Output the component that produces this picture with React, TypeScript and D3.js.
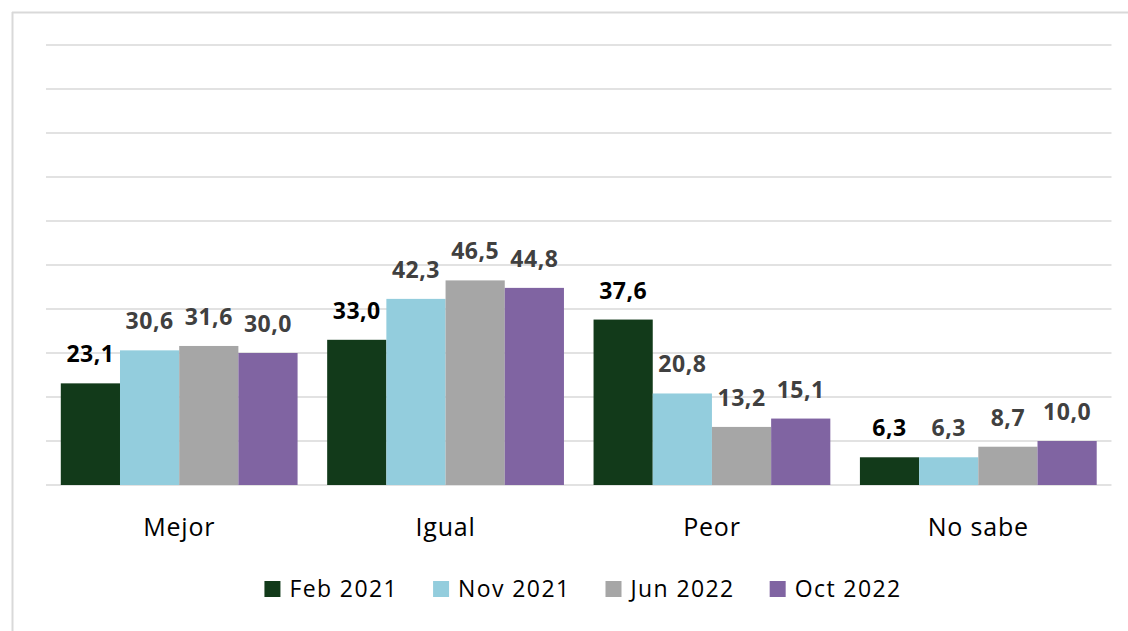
import React, { useEffect, useRef } from "react";
import * as d3 from "d3";

const categories = ["Mejor", "Igual", "Peor", "No sabe"];
const seriesNames = ["Feb 2021", "Nov 2021", "Jun 2022", "Oct 2022"];
const feb2021 = [23.1, 33.0, 37.6, 6.3];
const nov2021 = [30.6, 42.3, 20.8, 6.3];
const jun2022 = [31.6, 46.5, 13.2, 8.7];
const oct2022 = [30.0, 44.8, 15.1, 10.0];
const seriesValues = [feb2021, nov2021, jun2022, oct2022];
const colors = ["#123a1a", "#93cddd", "#a6a6a6", "#8064a2"];
const labelColors = ["#000000", "#404040", "#404040", "#404040"];
const yTicks = [0, 10, 20, 30, 40, 50, 60, 70, 80, 90, 100];

const W = 1128;
const H = 631;
const FONT = "'Open Sans', 'Liberation Sans', sans-serif";

export default function App() {
  const ref = useRef<SVGSVGElement>(null);

  useEffect(() => {
    const svg = d3.select(ref.current);
    svg.selectAll("*").remove();

    // outer border (left and top visible)
    svg.append("line").attr("x1", 12.5).attr("x2", 12.5).attr("y1", 12).attr("y2", H)
      .attr("stroke", "#d9d9d9").attr("stroke-width", 2);
    svg.append("line").attr("x1", 12).attr("x2", W).attr("y1", 12.5).attr("y2", 12.5)
      .attr("stroke", "#d9d9d9").attr("stroke-width", 2);

    const left = 46, right = 1111.5, top = 45, bottom = 485;
    const x0 = d3.scaleBand().domain(categories).range([left, right]).paddingInner(0).paddingOuter(0);
    const bw = x0.bandwidth() / 4.5;
    const x1 = d3.scaleBand().domain(seriesNames).range([bw * 0.25, bw * 4.25]).padding(0);
    const y = d3.scaleLinear().domain([0, 100]).range([bottom, top]);

    svg.append("g").selectAll("line").data(yTicks).join("line")
      .attr("x1", left).attr("x2", right)
      .attr("y1", (d) => y(d)).attr("y2", (d) => y(d))
      .attr("stroke", "#d9d9d9").attr("stroke-width", 1.5);

    seriesNames.forEach((s, si) => {
      const g = svg.append("g");
      const vals = seriesValues[si];
      g.selectAll("rect").data(vals).join("rect")
        .attr("x", (d, i) => (x0(categories[i]) as number) + (x1(s) as number))
        .attr("y", (d) => y(d))
        .attr("width", x1.bandwidth())
        .attr("height", (d) => bottom - y(d))
        .attr("fill", colors[si]);
      g.selectAll("text").data(vals).join("text")
        .attr("x", (d, i) => (x0(categories[i]) as number) + (x1(s) as number) + x1.bandwidth() / 2)
        .attr("y", (d) => y(d) - 21)
        .attr("text-anchor", "middle")
        .attr("font-family", FONT)
        .attr("font-weight", "bold")
        .attr("font-size", 23)
        .attr("letter-spacing", 0.5)
        .attr("fill", labelColors[si])
        .text((d) => d.toFixed(1).replace(".", ","));
    });

    svg.append("g").selectAll("text").data(categories).join("text")
      .attr("x", (d) => (x0(d) as number) + x0.bandwidth() / 2)
      .attr("y", 536)
      .attr("text-anchor", "middle")
      .attr("font-family", FONT)
      .attr("font-size", 25)
      .attr("letter-spacing", 0.8)
      .attr("fill", "#000")
      .text((d) => d);

    // legend
    const lg = svg.append("g");
    const items = lg.selectAll("g").data(seriesNames).join("g");
    items.append("rect").attr("width", 16).attr("height", 16).attr("y", -16)
      .attr("fill", (d, i) => colors[i]);
    const texts = items.append("text").attr("x", 25).attr("y", 0)
      .attr("font-family", FONT).attr("font-size", 23).attr("letter-spacing", 1.4)
      .attr("fill", "#000")
      .text((d) => d);
    const widths: number[] = [];
    texts.each(function () { widths.push((this as SVGTextElement).getComputedTextLength()); });
    const gap = 35;
    const itemW = widths.map((w) => 25 + w);
    const total = d3.sum(itemW) + gap * (itemW.length - 1);
    let cx = 583 - total / 2;
    items.attr("transform", (d, i) => {
      const t = `translate(${cx},597)`;
      cx += itemW[i] + gap;
      return t;
    });
  }, []);

  return (
    <svg ref={ref} width={W} height={H}
      style={{ position: "absolute", left: 0, top: 0, background: "#fff" }} />
  );
}
